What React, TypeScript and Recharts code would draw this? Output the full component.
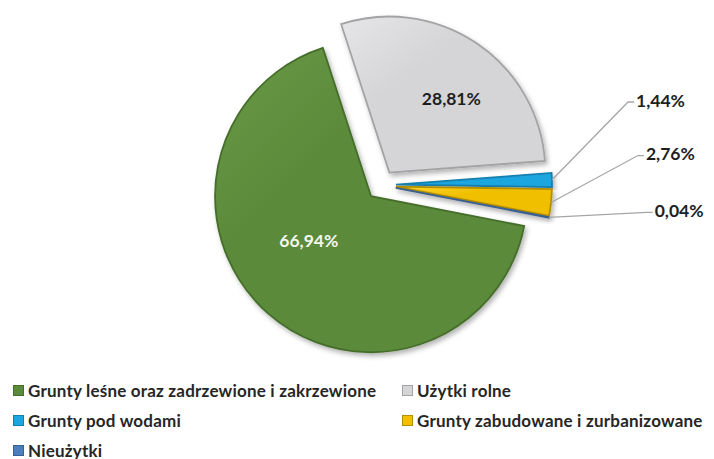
import React from 'react'
import { PieChart, Pie, Cell } from 'recharts'

const categories = [
  'Grunty leśne oraz zadrzewione i zakrzewione',
  'Użytki rolne',
  'Grunty pod wodami',
  'Grunty zabudowane i zurbanizowane',
  'Nieużytki',
]
const shares = [66.94, 28.81, 1.44, 2.76, 0.04]
const shareLabels = ['66,94%', '28,81%', '1,44%', '2,76%', '0,04%']

const colors = ['#5b8a3a', '#d5d5d7', '#1ba6df', '#f0c000', '#4c7dbd']
const lights = ['#6a9a47', '#e6e6e8', '#4cc0ee', '#ffd633', '#6a95cf']
const edges = ['#456e2b', '#a3a3a5', '#137fae', '#b58f00', '#385f92']

const pieData = categories.map((name, i) => ({ name, value: shares[i] }))

const CX = 381
const CY = 185
const R = 156
const EXPLODE = 15
const START = -11
const FONT = 'Lato, "Open Sans", sans-serif'

// inner labels: fraction of radius and turn from the bisector
const innerRadius = [0.49, 0.62]
const innerTurn = [-13, -6]
// outer labels: elbow distance past the rim, lift from the slice
const outsideReach: Record<number, number> = { 2: 76, 3: 86, 4: 95 }
const outsideLift: Record<number, number> = { 2: -78, 3: -47, 4: -5 }

const total = shares.reduce((a, b) => a + b, 0)
const RAD = Math.PI / 180

function midAngle(k: number) {
  const before = shares.slice(0, k).reduce((a, b) => a + b, 0)
  return START - ((before + shares[k] / 2) / total) * 360
}

function renderLabel(props: any, k: number) {
  if (props.index !== k) return <g />
  const { cx, cy, outerRadius, midAngle: mid } = props
  if (k < 2) {
    const rr = outerRadius * innerRadius[k]
    const a = mid + innerTurn[k]
    const x = cx + rr * Math.cos(-a * RAD)
    const y = cy + rr * Math.sin(-a * RAD)
    return (
      <text x={x} y={y} textAnchor="middle" dominantBaseline="central"
        fill={k === 0 ? '#f3f7ee' : '#1e1e1e'} fontFamily={FONT} fontWeight={700} fontSize={17.5}>
        {shareLabels[k]}
      </text>
    )
  }
  const sx = cx + outerRadius * Math.cos(-mid * RAD)
  const sy = cy + outerRadius * Math.sin(-mid * RAD)
  const ex = cx + outerRadius + outsideReach[k]
  const ey = sy + outsideLift[k]
  return (
    <g>
      <polyline points={`${sx},${sy} ${ex},${ey} ${ex + 6},${ey}`} fill="none" stroke="#a6a6a6" strokeWidth={1.3} />
      <text x={ex + 8} y={ey - 2} textAnchor="start" dominantBaseline="central"
        fill="#1e1e1e" fontFamily={FONT} fontWeight={700} fontSize={17.5}>
        {shareLabels[k]}
      </text>
    </g>
  )
}

const legendPos = [
  { left: 13, top: 390 },
  { left: 402, top: 390 },
  { left: 13, top: 420 },
  { left: 402, top: 420 },
  { left: 13, top: 450 },
]

export default function App() {
  return (
    <div style={{ position: 'absolute', left: 0, top: 0, width: 714, height: 459, background: '#fff', overflow: 'hidden' }}>
      <PieChart width={714} height={459} margin={{ top: 0, right: 0, bottom: 0, left: 0 }}>
        <defs>
          <filter id="sliceShadow" x="-20%" y="-20%" width="140%" height="140%">
            <feDropShadow dx="2" dy="3" stdDeviation="2.5" floodColor="#000" floodOpacity="0.3" />
          </filter>
          {colors.map((c, i) => (
            <linearGradient key={i} id={`bevel${i}`} x1="0" y1="0" x2="1" y2="1">
              <stop offset="0%" stopColor={lights[i]} />
              <stop offset="35%" stopColor={c} />
              <stop offset="100%" stopColor={c} />
            </linearGradient>
          ))}
        </defs>
        {categories.map((_, k) => {
          const m = midAngle(k)
          return (
            <Pie
              key={k}
              data={pieData}
              dataKey="value"
              nameKey="name"
              cx={CX + EXPLODE * Math.cos(m * RAD)}
              cy={CY - EXPLODE * Math.sin(m * RAD)}
              outerRadius={R}
              startAngle={START}
              endAngle={START - 360}
              isAnimationActive={false}
              labelLine={false}
              label={(p: any) => renderLabel(p, k)}
              legendType="none"
            >
              {pieData.map((_, i) => (
                <Cell
                  key={i}
                  fill={i === k ? `url(#bevel${i})` : 'transparent'}
                  stroke={i === k ? edges[i] : 'none'}
                  strokeWidth={i === k ? 1.8 : 0}
                  style={i === k ? { filter: 'url(#sliceShadow)' } : undefined}
                />
              ))}
            </Pie>
          )
        })}
      </PieChart>
      {categories.map((name, i) => (
        <div key={name} style={{
          position: 'absolute', left: legendPos[i].left, top: legendPos[i].top - 11,
          height: 22, display: 'flex', alignItems: 'center', whiteSpace: 'nowrap',
          fontFamily: FONT, fontWeight: 700, fontSize: 17, letterSpacing: 0.2, color: '#262626',
        }}>
          <span style={{ display: 'inline-block', width: 9, height: 9, background: colors[i], border: `1px solid ${edges[i]}`, marginRight: 4 }} />
          {name}
        </div>
      ))}
    </div>
  )
}
